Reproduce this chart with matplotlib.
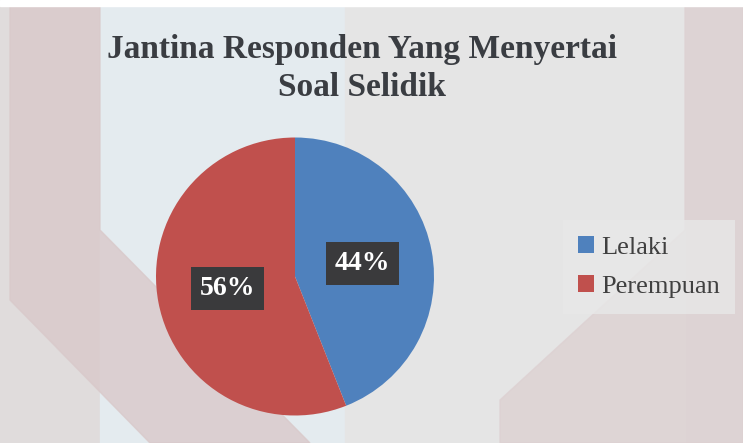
import numpy as np
import matplotlib
matplotlib.use("Agg")
import matplotlib.pyplot as plt
from matplotlib.patches import Polygon, Rectangle

# data
labels = ["Lelaki", "Perempuan"]
values = [44, 56]
colors = ["#4f81bd", "#c0504d"]
title_lines = ["Jantina Responden Yang Menyertai", "Soal Selidik"]

fig = plt.figure(figsize=(7.43, 4.43), dpi=100)
fig.patch.set_facecolor("#dedede")

# faint watermark shapes in the background
bg = fig.add_axes([0, 0, 1, 1])
bg.set_xlim(0, 743)
bg.set_ylim(443, 0)
bg.axis("off")
bg.add_patch(Rectangle((0, 0), 743, 443, color="#e0dcdc", zorder=0))
bg.add_patch(Rectangle((100, 0), 245, 443, color="#e4ebef", zorder=1))
bg.add_patch(Rectangle((345, 0), 340, 443, color="#e5e5e5", zorder=1))
bg.add_patch(Polygon([(10, 0), (100, 0), (100, 230), (310, 443), (150, 443), (10, 300)],
                     color="#d9c9ca", alpha=0.8, zorder=2))
bg.add_patch(Polygon([(685, 0), (743, 0), (743, 443), (500, 443), (500, 400), (685, 230)],
                     color="#ddd1d2", alpha=0.8, zorder=2))
bg.add_patch(Rectangle((0, 0), 743, 6, color="#ffffff", zorder=3))

for i, line in enumerate(title_lines):
    fig.text(0.4866, 1 - (58 + 38 * i) / 443, line, ha="center", va="baseline",
             fontsize=24, fontweight="bold", family="Liberation Serif",
             color="#3a3d42")

ax = fig.add_axes([(295 - 139) / 743, (443 - 276.5 - 139) / 443, 278 / 743, 278 / 443])
wedges, _ = ax.pie(values, colors=colors, startangle=90, counterclock=False,
                   radius=1.0, wedgeprops=dict(linewidth=0))
ax.set_xlim(-1, 1)
ax.set_ylim(-1, 1)
ax.set_aspect("auto")

label_pos = [(0.486, 0.094), (-0.486, -0.086)]
for v, (x, y) in zip(values, label_pos):
    ax.text(x, y, f"{v}%", ha="center", va="center", fontsize=20,
            fontweight="bold", family="Liberation Serif", color="white",
            bbox=dict(boxstyle="square,pad=0.32", facecolor="#3a3a3c",
                      edgecolor="none"))

leg = fig.legend(wedges, labels, loc="center left", bbox_to_anchor=(0.75, 0.397),
                 frameon=True, prop={"family": "Liberation Serif", "size": 19},
                 handlelength=0.6, handleheight=0.6, handletextpad=0.25,
                 labelspacing=0.62, borderpad=0.3)
leg.get_frame().set_facecolor("#e8e8e8")
leg.get_frame().set_edgecolor("none")
leg.get_frame().set_boxstyle("square")
for t in leg.get_texts():
    t.set_color("#404040")

fig.savefig("out.png", dpi=100, facecolor=fig.get_facecolor())
